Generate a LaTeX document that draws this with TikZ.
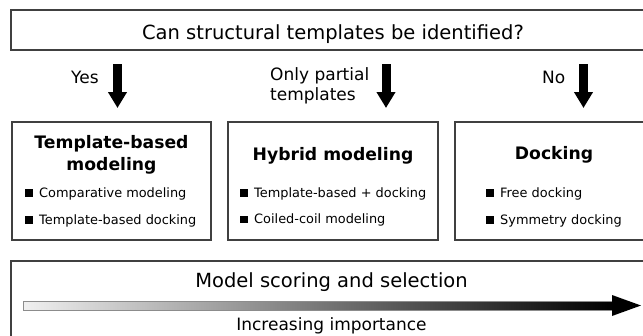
\documentclass[tikz,border=0pt]{standalone}
\usepackage{fontspec}
\setmainfont{DejaVu Sans}
\usetikzlibrary{arrows.meta}
\begin{document}
\begin{tikzpicture}[x=1pt,y=-1pt,
  frame/.style={draw=black!75,line width=1.4pt,fill=none,inner sep=0pt,outer sep=0pt},
  big/.style={inner sep=0pt,anchor=base,font=\fontsize{19.5}{23}\selectfont},
  lab/.style={inner sep=0pt,anchor=base west,font=\fontsize{17}{20}\selectfont},
  head/.style={inner sep=0pt,anchor=base,font=\fontsize{17.2}{20}\selectfont\bfseries},
  item/.style={inner sep=0pt,anchor=base west,font=\fontsize{12.9}{15}\selectfont},
  down/.style={line width=9pt,-{Triangle[width=18pt,length=16pt]}}]
\useasboundingbox (0,0) rectangle (643,335);
\clip (0,0) rectangle (643,335);
\newcommand{\sq}{\raisebox{0.5pt}{\rule{7.5pt}{7.5pt}}\hspace{6.5pt}}
% question box
\node[frame,minimum width=644pt,minimum height=40pt] (qbox) at (333,30) {};
\node[big] (qtext) at (333,39) {Can structural templates be identified?};
% answer labels
\node[lab] (yes) at (71,83) {Yes};
\node[lab] (part1) at (270,80) {Only partial};
\node[lab] (part2) at (270,100) {templates};
\node[lab] (no) at (542,83) {No};
% arrows
\coordinate (a1s) at (117.5,64); \coordinate (a1e) at (117.5,108);
\coordinate (a2s) at (386,64);   \coordinate (a2e) at (386,108);
\coordinate (a3s) at (583.5,64); \coordinate (a3e) at (583.5,108);
\draw[down] (a1s) -- (a1e);
\draw[down] (a2s) -- (a2e);
\draw[down] (a3s) -- (a3e);
% three method boxes
\node[frame,minimum width=199pt,minimum height=118pt] (b1) at (111.5,181) {};
\node[frame,minimum width=210pt,minimum height=118pt] (b2) at (333,181) {};
\node[frame,minimum width=198pt,minimum height=118pt] (b3) at (554,181) {};
\node[head] (h1a) at (111.5,148) {Template-based};
\node[head] (h1b) at (111.5,170) {modeling};
\node[head] (h2) at (333,160) {Hybrid modeling};
\node[head] (h3) at (554,159) {Docking};
\node[item] (i11) at (25,197) {\sq Comparative modeling};
\node[item] (i12) at (25,224) {\sq Template-based docking};
\node[item] (i21) at (240,197) {\sq Template-based + docking};
\node[item] (i22) at (240,223.5) {\sq Coiled-coil modeling};
\node[item] (i31) at (486,197) {\sq Free docking};
\node[item] (i32) at (486,224) {\sq Symmetry docking};
% scoring box
\node[frame,minimum width=644pt,minimum height=100pt] (sbox) at (333,311) {};
\node[big] (stext) at (331.5,287) {Model scoring and selection};
\node[lab,anchor=base] (imp) at (331.5,330.5) {Increasing importance};
% gradient arrow
\shade[left color=black!6,right color=black] (23,301) rectangle (613,310);
\draw[black!45,line width=0.6pt] (613,301) -- (23,301) -- (23,310) -- (613,310);
\fill[black] (612,295) -- (641,305.5) -- (612,316) -- cycle;
\end{tikzpicture}
\end{document}
